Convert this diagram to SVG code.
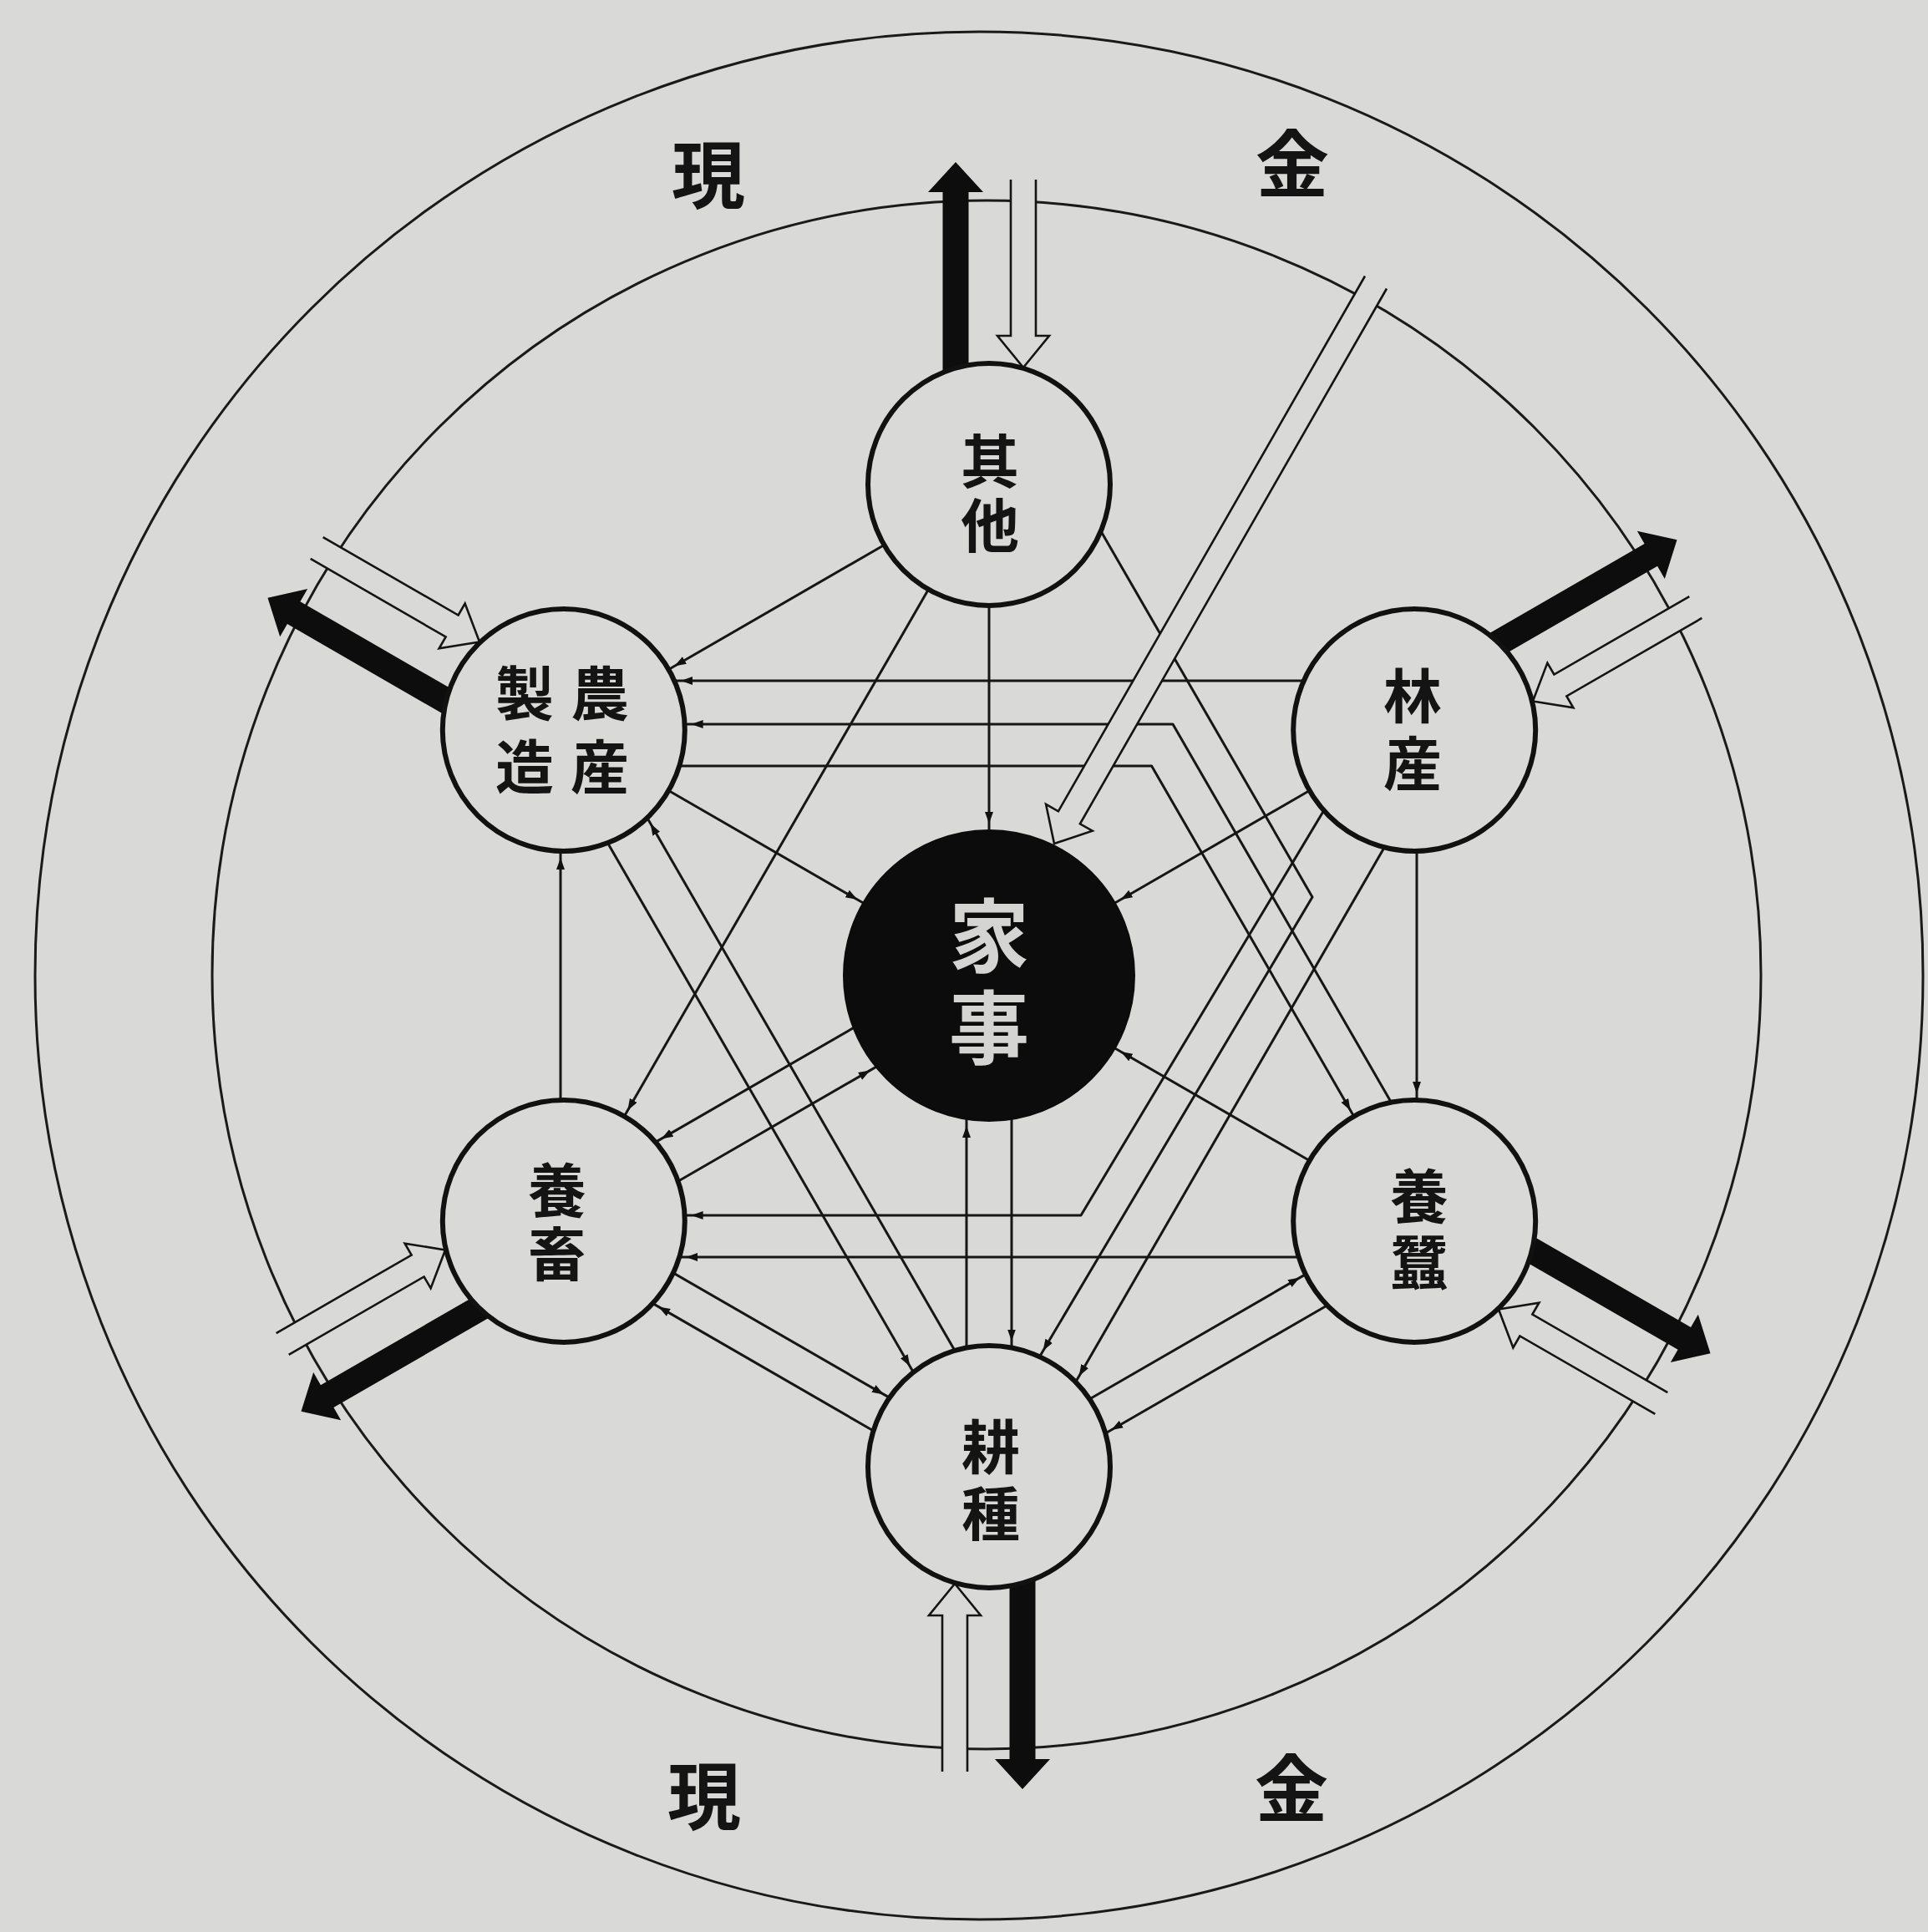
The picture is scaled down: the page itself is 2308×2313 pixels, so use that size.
<svg xmlns="http://www.w3.org/2000/svg" width="2308" height="2313" viewBox="0 0 2308 2313">
<defs>
<style>
.bg{fill:#d9d9d7}
.ring{fill:none;stroke:#1a1a1a;stroke-width:3}
.node{fill:#d9d9d7;stroke:#111;stroke-width:6}
.core{fill:#0c0c0c;stroke:#0c0c0c;stroke-width:2}
.conn{fill:none;stroke:#161616;stroke-width:3;stroke-linejoin:round}
.blk{fill:#0d0d0d}
.hol{fill:#d9d9d7;stroke:#141414;stroke-width:2.6;stroke-linejoin:miter}
.lbl{font-family:"Noto Sans CJK JP","Noto Sans CJK SC",sans-serif;font-weight:700;fill:#141414;text-anchor:middle;font-size:70px}
.money{font-size:88px;dominant-baseline:central}
.vt{writing-mode:vertical-rl;text-orientation:upright}
.core-lbl{fill:#d4d4d2;font-size:96px}
</style>
<marker id="ah" markerUnits="userSpaceOnUse" markerWidth="30" markerHeight="14" refX="22" refY="5" orient="auto">
<path d="M0,0 L14,5 L0,10 Z" fill="#111"/>
</marker>
<g id="topArrows">
<path class="blk" d="M1128.5,452 L1128.5,230 L1111,230 L1144,194 L1177,230 L1159.5,230 L1159.5,452 Z"/>
<path class="hol" d="M1210,215 L1210,402 L1194,402 L1225,440 L1256,402 L1240,402 L1240,215"/>
</g>
</defs>
<rect class="bg" x="0" y="0" width="2308" height="2313"/>
<g id="rings">
<circle class="ring" cx="1172" cy="1168" r="1130"/>
<circle class="ring" cx="1181" cy="1167" r="927"/>
</g>
<g id="money-labels">
<text class="lbl money" x="848" y="203">現</text>
<text class="lbl money" x="1547" y="190">金</text>
<text class="lbl money" x="843" y="2144">現</text>
<text class="lbl money" x="1546" y="2135">金</text>
</g>
<g id="connectors">
<path class="conn" marker-end="url(#ah)" d="M1184,725 L1184,994"/>
<path class="conn" marker-end="url(#ah)" d="M800.4,946.5 L1033.3,1081"/>
<path class="conn" marker-end="url(#ah)" d="M1567.6,946.5 L1334.7,1081"/>
<path class="conn" marker-end="url(#ah)" d="M1567.6,1389.5 L1334.7,1255"/>
<path class="conn" marker-end="url(#ah)" d="M1021.6,1230.6 L784.7,1367.4"/>
<path class="conn" marker-end="url(#ah)" d="M811.7,1414.2 L1048.6,1277.4"/>
<path class="conn" marker-end="url(#ah)" d="M1211,1339.9 L1211,1613.5"/>
<path class="conn" marker-end="url(#ah)" d="M1157,1613.5 L1157,1339.9"/>
<path class="conn" marker-end="url(#ah)" d="M1058.4,652.5 L800.4,801.5"/>
<path class="conn" marker-end="url(#ah)" d="M1111.5,705.6 L747.3,1336.4"/>
<path class="conn" marker-end="url(#ah)" d="M671,1317 L671,1019"/>
<path class="conn" marker-end="url(#ah)" d="M1696,1019 L1696,1317"/>
<path class="conn" marker-end="url(#ah)" d="M1560.7,815 L807.3,815"/>
<path class="conn" marker-end="url(#ah)" d="M1665.4,1319.7 L1404,867 L819.6,867"/>
<path class="conn" marker-end="url(#ah)" d="M813.3,917 L1378.6,917 L1620.7,1336.4"/>
<path class="conn" marker-end="url(#ah)" d="M1317.8,635.8 L1571,1074 L1244.5,1624.2"/>
<path class="conn" marker-end="url(#ah)" d="M1584.8,970.3 L1294,1455 L819.6,1455"/>
<path class="conn" marker-end="url(#ah)" d="M1657.2,1014.5 L1287.7,1654.5"/>
<path class="conn" marker-end="url(#ah)" d="M1554.7,1505 L813.3,1505"/>
<path class="conn" marker-end="url(#ah)" d="M1142.9,1616.8 L774.7,979.1"/>
<path class="conn" marker-end="url(#ah)" d="M727.4,1009.1 L1093.3,1642.8"/>
<path class="conn" marker-end="url(#ah)" d="M805.9,1523.9 L1064.9,1673.4"/>
<path class="conn" marker-end="url(#ah)" d="M1045.6,1713 L781.3,1560.4"/>
<path class="conn" marker-end="url(#ah)" d="M1304.3,1675 L1562.9,1525.6"/>
<path class="conn" marker-end="url(#ah)" d="M1588.9,1562.7 L1323.3,1716"/>
</g>
<g id="cash-arrows">
<use href="#topArrows"/>
<use href="#topArrows" transform="rotate(60 1184 1168)"/>
<use href="#topArrows" transform="rotate(120 1184 1168)"/>
<use href="#topArrows" transform="rotate(180 1184 1168)"/>
<use href="#topArrows" transform="rotate(240 1184 1168)"/>
<use href="#topArrows" transform="rotate(300 1184 1168)"/>
<path class="hol" d="M1634,330.5 L1266.9,971.3 L1252.1,962.9 L1262,1010 L1307.7,994.7 L1292.9,986.3 L1660,345.5"/>
</g>
<g id="node-other">
<circle class="node" cx="1184" cy="580" r="145"/>
<text class="lbl vt" x="1185" y="594" letter-spacing="7">其他</text>
</g>
<g id="node-agri-processing">
<circle class="node" cx="674.8" cy="874" r="145"/>
<text class="lbl vt" x="718" y="883" letter-spacing="18">農産</text>
<text class="lbl vt" x="628" y="883" letter-spacing="18">製造</text>
</g>
<g id="node-forestry">
<circle class="node" cx="1693.2" cy="874" r="145"/>
<text class="lbl vt" x="1691" y="879" letter-spacing="11">林産</text>
</g>
<g id="node-livestock">
<circle class="node" cx="674.8" cy="1462" r="145"/>
<text class="lbl vt" x="667" y="1466" letter-spacing="6">養畜</text>
</g>
<g id="node-sericulture">
<circle class="node" cx="1693.2" cy="1462" r="145"/>
<text class="lbl vt" x="1699" y="1476" letter-spacing="9">養蠶</text>
</g>
<g id="node-cultivation">
<circle class="node" cx="1184" cy="1756" r="145"/>
<text class="lbl vt" x="1186" y="1777" letter-spacing="10">耕種</text>
</g>
<g id="node-household">
<circle class="core" cx="1184" cy="1168" r="174"/>
<text class="lbl vt core-lbl" x="1184" y="1182" letter-spacing="14">家事</text>
</g>
</svg>
